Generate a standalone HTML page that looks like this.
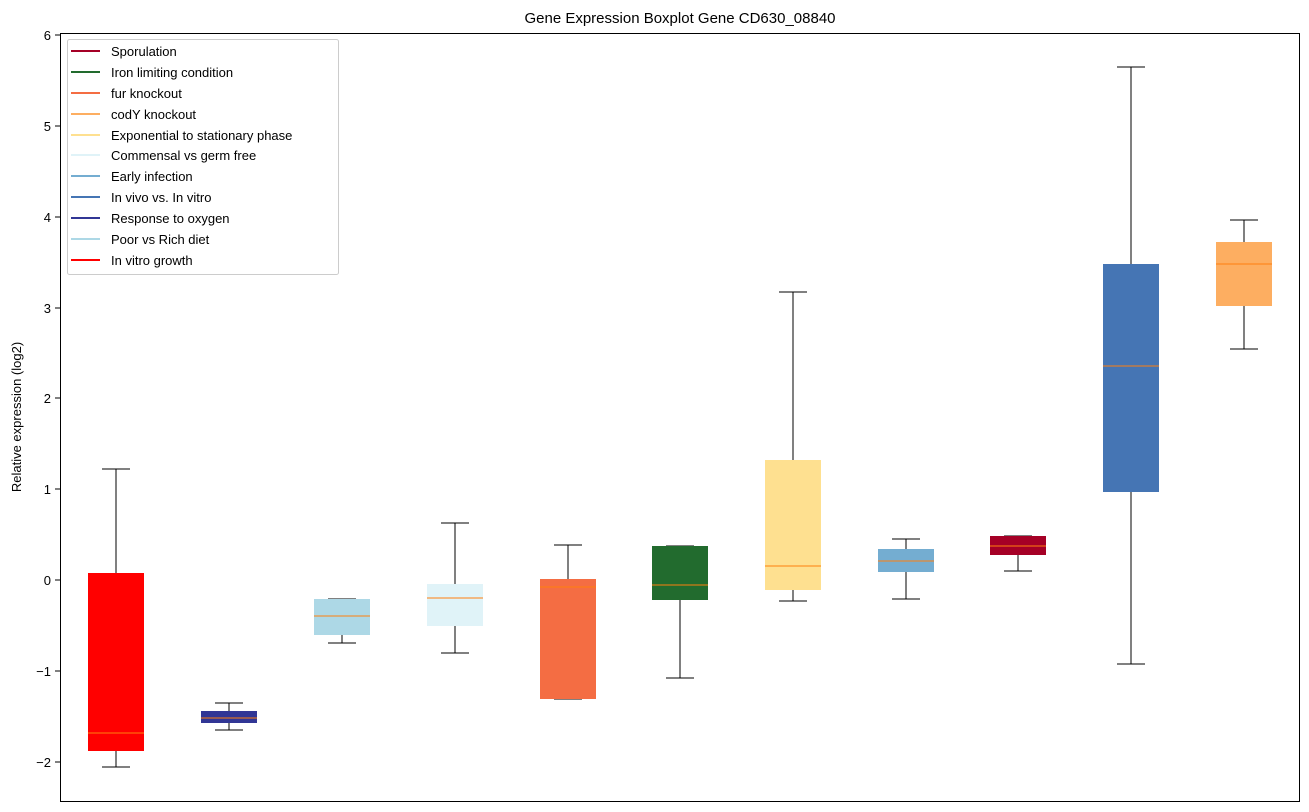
<!DOCTYPE html>
<html><head><meta charset="utf-8"><style>body{margin:0;background:#fff}svg{display:block;font-family:"Liberation Sans","DejaVu Sans",sans-serif}</style></head><body>
<svg width="1309" height="812" viewBox="0 0 1309 812" xmlns="http://www.w3.org/2000/svg">
<rect width="1309" height="812" fill="#fff"/>
<text x="680" y="23" font-size="15" text-anchor="middle" fill="#000">Gene Expression Boxplot Gene CD630_08840</text>
<text transform="translate(21,417) rotate(-90)" font-size="13" text-anchor="middle">Relative expression (log2)</text>
<g font-size="13" text-anchor="end" fill="#000" shape-rendering="crispEdges">
<line x1="55" x2="60" y1="35" y2="35" stroke="#000"/><text x="51" y="40">6</text>
<line x1="55" x2="60" y1="126" y2="126" stroke="#000"/><text x="51" y="131">5</text>
<line x1="55" x2="60" y1="217" y2="217" stroke="#000"/><text x="51" y="222">4</text>
<line x1="55" x2="60" y1="308" y2="308" stroke="#000"/><text x="51" y="313">3</text>
<line x1="55" x2="60" y1="398" y2="398" stroke="#000"/><text x="51" y="403">2</text>
<line x1="55" x2="60" y1="489" y2="489" stroke="#000"/><text x="51" y="494">1</text>
<line x1="55" x2="60" y1="580" y2="580" stroke="#000"/><text x="51" y="585">0</text>
<line x1="55" x2="60" y1="671" y2="671" stroke="#000"/><text x="51" y="676">−1</text>
<line x1="55" x2="60" y1="762" y2="762" stroke="#000"/><text x="51" y="767">−2</text>
</g>
<g stroke="#000" stroke-width="1" fill="none" shape-rendering="crispEdges">
<line x1="116" x2="116" y1="469" y2="767"/><line x1="102" x2="130" y1="469" y2="469"/><line x1="102" x2="130" y1="767" y2="767"/>
<line x1="229" x2="229" y1="703" y2="730"/><line x1="215" x2="243" y1="703" y2="703"/><line x1="215" x2="243" y1="730" y2="730"/>
<line x1="342" x2="342" y1="599" y2="643"/><line x1="328" x2="356" y1="599" y2="599"/><line x1="328" x2="356" y1="643" y2="643"/>
<line x1="455" x2="455" y1="523" y2="653"/><line x1="441" x2="469" y1="523" y2="523"/><line x1="441" x2="469" y1="653" y2="653"/>
<line x1="568" x2="568" y1="545" y2="699"/><line x1="554" x2="582" y1="545" y2="545"/><line x1="554" x2="582" y1="699" y2="699"/>
<line x1="680" x2="680" y1="546" y2="678"/><line x1="666" x2="694" y1="546" y2="546"/><line x1="666" x2="694" y1="678" y2="678"/>
<line x1="793" x2="793" y1="292" y2="601"/><line x1="779" x2="807" y1="292" y2="292"/><line x1="779" x2="807" y1="601" y2="601"/>
<line x1="906" x2="906" y1="539" y2="599"/><line x1="892" x2="920" y1="539" y2="539"/><line x1="892" x2="920" y1="599" y2="599"/>
<line x1="1018" x2="1018" y1="536" y2="571"/><line x1="1004" x2="1032" y1="536" y2="536"/><line x1="1004" x2="1032" y1="571" y2="571"/>
<line x1="1131" x2="1131" y1="67" y2="664"/><line x1="1117" x2="1145" y1="67" y2="67"/><line x1="1117" x2="1145" y1="664" y2="664"/>
<line x1="1244" x2="1244" y1="220" y2="349"/><line x1="1230" x2="1258" y1="220" y2="220"/><line x1="1230" x2="1258" y1="349" y2="349"/>
</g>
<g stroke="none" shape-rendering="crispEdges">
<rect x="88" y="573" width="56" height="178" fill="#ff0000"/>
<rect x="201" y="711" width="56" height="12" fill="#313695"/>
<rect x="314" y="599" width="56" height="36" fill="#add8e6"/>
<rect x="427" y="584" width="56" height="42" fill="#e0f3f8"/>
<rect x="540" y="579" width="56" height="120" fill="#f46d43"/>
<rect x="652" y="546" width="56" height="54" fill="#226b2e"/>
<rect x="765" y="460" width="56" height="130" fill="#fee090"/>
<rect x="878" y="549" width="56" height="23" fill="#74add1"/>
<rect x="990" y="536" width="56" height="19" fill="#a50026"/>
<rect x="1103" y="264" width="56" height="228" fill="#4575b4"/>
<rect x="1216" y="242" width="56" height="64" fill="#fdae61"/>
</g>
<g stroke="#ff7f0e" stroke-width="1" shape-rendering="crispEdges">
<line x1="88" x2="144" y1="733" y2="733"/>
<line x1="201" x2="257" y1="718" y2="718"/>
<line x1="314" x2="370" y1="616" y2="616"/>
<line x1="427" x2="483" y1="598" y2="598"/>
<line x1="540" x2="596" y1="587" y2="587"/>
<line x1="652" x2="708" y1="585" y2="585"/>
<line x1="765" x2="821" y1="566" y2="566"/>
<line x1="878" x2="934" y1="561" y2="561"/>
<line x1="990" x2="1046" y1="546" y2="546"/>
<line x1="1103" x2="1159" y1="366" y2="366"/>
<line x1="1216" x2="1272" y1="264" y2="264"/>
</g>
<rect x="60.5" y="33.5" width="1239" height="768" fill="none" stroke="#000"/>
<rect x="67.5" y="39.5" width="271" height="235" rx="2" fill="#fff" fill-opacity="0.8" stroke="#ccc"/>
<g font-size="13" fill="#000" stroke-width="2">
<line x1="71" x2="100" y1="51" y2="51" stroke="#a50026"/><text x="111" y="56">Sporulation</text>
<line x1="71" x2="100" y1="72" y2="72" stroke="#226b2e"/><text x="111" y="77">Iron limiting condition</text>
<line x1="71" x2="100" y1="93" y2="93" stroke="#f46d43"/><text x="111" y="98">fur knockout</text>
<line x1="71" x2="100" y1="114" y2="114" stroke="#fdae61"/><text x="111" y="119">codY knockout</text>
<line x1="71" x2="100" y1="135" y2="135" stroke="#fee090"/><text x="111" y="140">Exponential to stationary phase</text>
<line x1="71" x2="100" y1="155" y2="155" stroke="#e0f3f8"/><text x="111" y="160">Commensal vs germ free</text>
<line x1="71" x2="100" y1="176" y2="176" stroke="#74add1"/><text x="111" y="181">Early infection</text>
<line x1="71" x2="100" y1="197" y2="197" stroke="#4575b4"/><text x="111" y="202">In vivo vs. In vitro</text>
<line x1="71" x2="100" y1="218" y2="218" stroke="#313695"/><text x="111" y="223">Response to oxygen</text>
<line x1="71" x2="100" y1="239" y2="239" stroke="#add8e6"/><text x="111" y="244">Poor vs Rich diet</text>
<line x1="71" x2="100" y1="260" y2="260" stroke="#ff0000"/><text x="111" y="265">In vitro growth</text>
</g>
</svg>
</body></html>
